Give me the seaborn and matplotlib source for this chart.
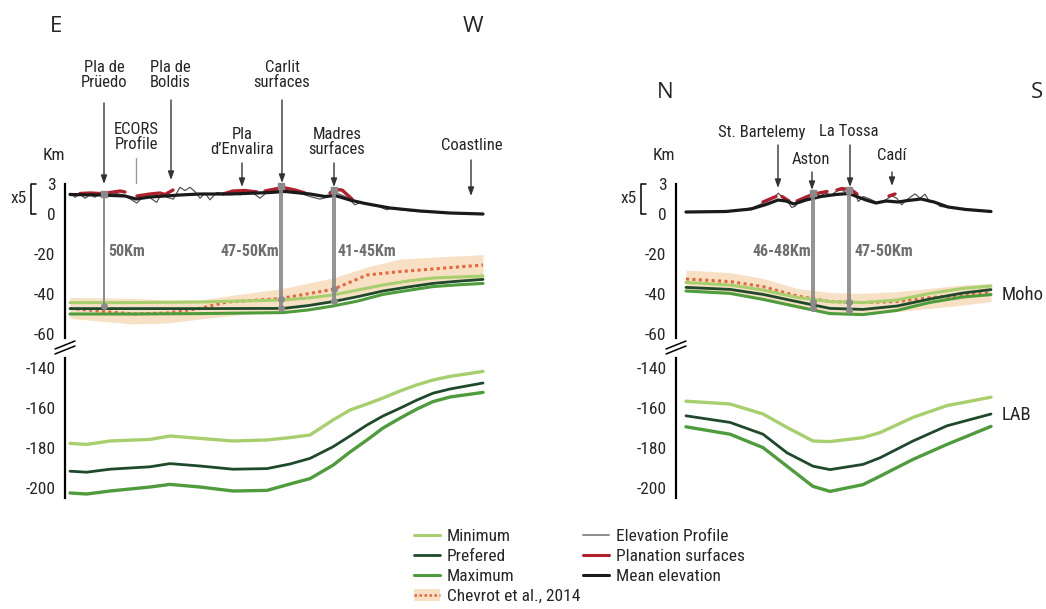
import numpy as np
import pandas as pd
import matplotlib
matplotlib.use("Agg")
import matplotlib.pyplot as plt
import seaborn as sns
from matplotlib import font_manager
from matplotlib.lines import Line2D
from matplotlib.patches import Patch

VE = 5  # vertical exaggeration of topography

# ---------------- E-W profile ----------------
ew_topo_x = [0, 5, 10, 15, 20, 25, 30, 36.7, 45, 53.3, 61.7, 66.7, 71.7, 78.3, 86.7, 91.7, 96.7,
             103.3, 110, 115, 120, 125, 130, 135, 140, 146.7, 153.3, 163.3, 170, 176.7, 183.3,
             190, 196.7, 206.7, 213.3, 220, 230, 240, 250, 260, 266.7, 276.7, 285, 290, 296.7,
             306.7, 316.7, 321.7, 330, 346.7, 363.3, 396.7, 413.3]
ew_topo = [2.08, 1.68, 1.98, 1.58, 1.91, 1.68, 2.08, 1.82, 2.08, 1.91, 1.42, 1.09, 1.58, 1.75,
           1.16, 2.08, 1.68, 1.49, 2.67, 2.34, 2.67, 2.24, 1.58, 2.08, 1.42, 2.15, 2.08, 2.24,
           1.91, 2.21, 2.08, 1.58, 2.15, 2.34, 2.54, 2.24, 2.08, 1.75, 1.49, 1.75, 2.08, 1.68,
           0.92, 1.16, 1.09, 0.83, 0.43, 0.59, 0.43, 0.26, 0.17, 0.03, 0.0]
ew_mean_x = [0, 30, 55, 66, 80, 110, 130, 160, 200, 215, 240, 255, 265, 280, 295, 320, 350, 380, 413]
ew_mean = [1.95, 1.9, 1.8, 1.5, 1.7, 1.9, 2.0, 2.0, 2.15, 2.25, 2.0, 1.75, 1.85, 1.4, 1.05, 0.6,
           0.3, 0.1, 0.0]
ew_plan_seg = [1, 1, 1, 1, 1, 1, 2, 2, 2, 2, 2, 3, 3, 3, 3, 4, 4, 4, 4, 4, 5, 5, 5, 5]
ew_plan_x = [10, 20, 30, 40, 50, 55, 67, 80, 90, 95, 103, 153, 163, 175, 187, 195, 205, 213,
             225, 235, 260, 265, 272, 282]
ew_plan = [2.05, 2.1, 2.05, 2.15, 2.3, 2.2, 1.8, 2.0, 2.1, 1.95, 2.4, 2.0, 2.3, 2.35, 2.2, 2.3,
           2.5, 2.65, 2.4, 2.1, 2.1, 2.45, 2.4, 1.5]

ew_moho_x = [0, 63, 130, 213, 238, 263, 288, 313, 338, 363, 388, 413]
ew_moho_min = [-44.3, -44.3, -44.0, -43.0, -42.0, -40.5, -38.0, -35.5, -33.5, -32.0, -31.5, -31.0]
ew_moho_pref = [-47.3, -47.3, -47.3, -47.2, -45.8, -43.8, -41.3, -38.5, -36.5, -34.7, -33.6, -32.7]
ew_moho_max = [-50.0, -50.0, -49.8, -49.3, -48.0, -46.0, -43.5, -40.2, -38.2, -36.3, -35.4, -34.7]

ew_chev_x = [0, 63, 97, 130, 157, 210, 263, 297, 330, 413]
ew_chev = [-47.2, -50.0, -49.5, -47.2, -44.0, -42.3, -37.7, -30.5, -28.8, -25.5]
ew_chev_up = [-41.7, -42.2, -43.0, -43.0, -41.0, -37.5, -32.0, -26.5, -22.5, -20.3]
ew_chev_lo = [-52.2, -55.0, -54.5, -52.5, -51.0, -48.5, -44.3, -39.5, -36.0, -33.0]

ew_lab_x = [0, 16.7, 40, 80, 100, 130, 163, 197, 220, 240, 263, 280, 297, 313, 330, 347, 363, 380, 413]
ew_lab_min = [-177.7, -178.2, -176.5, -175.7, -174.0, -175.2, -176.5, -176.0, -174.8, -173.5,
              -166.0, -161.0, -158.0, -155.0, -151.5, -148.4, -146.0, -144.2, -141.7]
ew_lab_pref = [-191.6, -192.1, -190.6, -189.4, -187.8, -189.0, -190.6, -190.3, -188.0, -185.2,
               -179.4, -174.0, -168.5, -164.0, -160.1, -156.0, -152.6, -150.5, -147.5]
ew_lab_max = [-202.5, -203.0, -201.5, -199.5, -198.2, -199.5, -201.5, -201.2, -198.0, -195.3,
              -188.6, -182.0, -176.0, -170.0, -165.1, -160.5, -156.8, -154.5, -152.2]

ew_marker_x = [34, 211, 264]
ew_marker_top = [2.0, 2.8, 2.4]
ew_marker_depths = [[-46.0], [-42.5, -47.0], [-37.5, -43.5]]
ew_marker_labels = ["50Km", "47-50Km", "41-45Km"]
ew_marker_label_x = [57, 180, 297]

ew_names = ["Pla de\nPrüedo", "ECORS\nProfile", "Pla de\nBoldis", "Pla\nd\u2019Envalira",
            "Carlit\nsurfaces", "Madres\nsurfaces", "Coastline"]
ew_name_x = [34, 66, 100, 172, 212, 267, 402]
ew_name_y = [69.5, 38.5, 69.5, 36, 69.5, 36, 34.5]
ew_arrow_x = [34, 66, 101, 172, 212, 264, 401]
ew_arrow_top = [55.5, 28, 57, 25.5, 57, 25.5, 27]
ew_arrow_tip = [15, 15.5, 17, 13.5, 15.5, 13.5, 9]

# ---------------- N-S profile ----------------
ns_topo_x = [0, 27.3, 54, 67.3, 80.7, 87.3, 92.3, 97.3, 102.3, 105.7, 109, 112.3, 117.3, 124, 129,
             134, 139, 145.7, 150.7, 155.7, 160.7, 165.7, 169, 172.3, 177.3, 184, 190.7, 197.3,
             205.7, 210.7, 215.7, 220.7, 229, 234, 239, 244, 249, 254, 267.3, 280.7, 294, 305]
ns_topo = [0.2, 0.2, 0.36, 0.66, 1.25, 1.58, 2.08, 1.58, 1.16, 0.66, 0.76, 1.16, 1.49, 1.91, 2.08,
           1.75, 2.08, 1.91, 2.31, 2.41, 2.08, 2.34, 2.08, 1.25, 1.75, 1.49, 1.16, 1.25, 1.82,
           1.58, 0.92, 1.42, 2.01, 1.58, 1.98, 1.16, 1.25, 0.76, 0.59, 0.49, 0.36, 0.26]
ns_mean_x = [0, 40, 65, 80, 92, 100, 108, 120, 135, 150, 163, 172, 180, 190, 200, 212, 222, 235,
             248, 262, 280, 305]
ns_mean = [0.2, 0.25, 0.5, 0.95, 1.4, 1.3, 1.0, 1.4, 1.75, 1.95, 2.05, 1.7, 1.4, 1.1, 1.3, 1.2,
           1.35, 1.5, 1.2, 0.7, 0.45, 0.25]
ns_plan_seg = [1, 1, 1, 2, 2, 3, 3, 3, 3, 3, 4, 4, 4, 4, 4, 5, 5]
ns_plan_x = [77, 84, 90, 96, 103, 111, 118, 125, 133, 141, 151, 156, 162, 167, 171, 203, 209]
ns_plan = [1.2, 1.5, 1.75, 1.75, 1.3, 1.3, 1.6, 1.9, 2.1, 2.25, 2.4, 2.55, 2.45, 2.3, 2.0, 1.8, 2.0]

ns_moho_x = [0, 44, 77, 111, 144, 177, 211, 244, 277, 305]
ns_moho_min = [-34.2, -35.5, -38.0, -41.7, -43.8, -44.3, -43.0, -39.7, -37.2, -36.0]
ns_moho_pref = [-36.7, -37.7, -40.2, -43.8, -47.2, -47.7, -46.0, -42.5, -39.5, -37.8]
ns_moho_max = [-38.5, -39.7, -42.7, -46.3, -49.8, -50.3, -48.2, -44.2, -41.5, -40.3]
ns_chev = [-32.5, -33.8, -36.3, -41.0, -43.8, -44.3, -43.8, -41.8, -40.5, -39.3]
ns_chev_up = [-28.0, -29.3, -32.2, -37.2, -39.3, -39.7, -38.8, -37.2, -35.5, -34.7]
ns_chev_lo = [-38.0, -39.3, -43.0, -47.2, -49.7, -49.7, -48.8, -47.2, -45.5, -43.8]

ns_lab_x = [0, 44, 77, 101, 127, 144, 177, 194, 227, 261, 305]
ns_lab_min = [-156.6, -158.0, -163.0, -169.7, -176.5, -176.8, -174.8, -172.3, -164.7, -158.8, -154.6]
ns_lab_pref = [-163.9, -167.2, -173.1, -182.4, -189.1, -190.8, -188.2, -184.9, -176.5, -168.9, -163.0]
ns_lab_max = [-169.4, -173.1, -179.8, -189.1, -199.2, -201.7, -198.3, -194.1, -185.7, -178.2, -169.2]

ns_marker_x = [127, 163]
ns_marker_top = [2.1, 2.4]
ns_marker_depths = [[-44.0, -47.0], [-44.0, -48.0]]
ns_marker_labels = ["46-48Km", "47-50Km"]
ns_marker_label_x = [96, 198]

ns_names = ["St. Bartelemy", "Aston", "La Tossa", "Cadí"]
ns_name_x = [76, 125, 163, 206]
ns_name_y = [41, 27, 41, 29.5]
ns_arrow_x = [92, 126, 164, 206]
ns_arrow_top = [34.5, 21, 34.5, 21]
ns_arrow_tip = [13, 12, 13.5, 14]

# colours
C_MIN = "#a8cf6e"
C_PREF = "#1e4a2b"
C_MAX = "#4e9c3c"
C_CHEV = "#e8643c"
C_BAND = "#f8e0c4"
C_PROF = "#555555"
C_PLAN = "#b0202c"
C_MEAN = "#1a1a1a"
C_MARK = "#8a8a8a"

sns.set_style("white")

# pick a narrow sans font if one is installed
_fonts = font_manager.fontManager.ttflist
_names = {f.name for f in _fonts}
narrow_family, narrow_stretch = None, "normal"
for cand in ["Liberation Sans Narrow", "Roboto Condensed", "Open Sans Condensed",
             "Noto Sans Condensed", "DejaVu Sans Condensed"]:
    if cand in _names:
        narrow_family = cand
        break
if narrow_family is None:
    for f in _fonts:
        if f.stretch in ("condensed", "semi-condensed") and f.name in ("Noto Sans", "DejaVu Sans",
                                                                       "Roboto", "Open Sans"):
            narrow_family, narrow_stretch = f.name, f.stretch
            break
if narrow_family is None:
    narrow_family = "Liberation Sans"
plt.rcParams["font.family"] = [narrow_family, "DejaVu Sans"]
plt.rcParams["font.stretch"] = narrow_stretch

fig = plt.figure(figsize=(10.46, 6.09), dpi=100)
W, H = 1046.0, 609.0
FS = 12.5


def px_axes(x0, y0, x1, y1):
    return fig.add_axes([x0 / W, 1 - y1 / H, (x1 - x0) / W, (y1 - y0) / H])


def style_axis(ax, major, labels, lo, hi):
    for s in ["top", "right", "bottom"]:
        ax.spines[s].set_visible(False)
    ax.spines["left"].set_linewidth(1.6)
    ax.spines["left"].set_color("black")
    ax.spines["left"].set_bounds(lo, hi)
    ax.set_xticks([])
    ax.set_yticks(major)
    ax.set_yticklabels(labels, fontsize=FS)
    ax.set_yticks(np.arange(lo - lo % 5, hi + 0.1, 5), minor=True)
    ax.tick_params(axis="y", which="major", direction="out", length=6, width=1.3, pad=1)
    ax.tick_params(axis="y", which="minor", direction="out", length=3.5, width=1.1)
    ax.set_xlabel("")
    ax.set_ylabel("")
    ax.patch.set_alpha(0)


def draw_panel(ax_top, ax_bot, d):
    # topography
    sns.lineplot(x=d["topo_x"], y=np.array(d["topo"]) * VE, ax=ax_top, color=C_PROF, lw=0.9,
                 estimator=None, sort=False)
    plan = pd.DataFrame({"x": d["plan_x"], "y": np.array(d["plan"]) * VE, "seg": d["plan_seg"]})
    sns.lineplot(data=plan, x="x", y="y", units="seg", estimator=None, ax=ax_top, color=C_PLAN,
                 lw=2.4, sort=False)
    sns.lineplot(x=d["mean_x"], y=np.array(d["mean"]) * VE, ax=ax_top, color=C_MEAN, lw=2.3,
                 estimator=None)
    # Chevrot et al. 2014
    ax_top.fill_between(d["chev_x"], d["chev_lo"], d["chev_up"], color=C_BAND, lw=0, zorder=0)
    sns.lineplot(x=d["chev_x"], y=d["chev"], ax=ax_top, color=C_CHEV, lw=2.2, linestyle=(0, (1, 1.1)),
                 estimator=None)
    # Moho
    sns.lineplot(x=d["moho_x"], y=d["moho_min"], ax=ax_top, color=C_MIN, lw=2.2, estimator=None)
    sns.lineplot(x=d["moho_x"], y=d["moho_pref"], ax=ax_top, color=C_PREF, lw=2.0, estimator=None)
    sns.lineplot(x=d["moho_x"], y=d["moho_max"], ax=ax_top, color=C_MAX, lw=2.2, estimator=None)
    # LAB
    sns.lineplot(x=d["lab_x"], y=d["lab_min"], ax=ax_bot, color=C_MIN, lw=2.4, estimator=None)
    sns.lineplot(x=d["lab_x"], y=d["lab_pref"], ax=ax_bot, color=C_PREF, lw=2.0, estimator=None)
    sns.lineplot(x=d["lab_x"], y=d["lab_max"], ax=ax_bot, color=C_MAX, lw=2.4, estimator=None)

    # crustal thickness markers
    for mx, top, depths, lab, lx in zip(d["mk_x"], d["mk_top"], d["mk_depths"], d["mk_labels"],
                                        d["mk_lx"]):
        if len(depths) > 1:
            for off in (-1.3, 1.3):
                ax_top.plot([mx + off, mx + off], [top * VE, min(depths)], color=C_MARK, lw=1.3,
                            zorder=5)
        else:
            ax_top.plot([mx, mx], [top * VE, min(depths)], color=C_MARK, lw=1.4, zorder=5)
        ax_top.scatter([mx], [top * VE], s=22, marker="s", color=C_MARK, zorder=6)
        ax_top.scatter([mx] * len(depths), depths, s=16, color=C_MARK, zorder=6)
        ax_top.text(lx, -18.5, lab, ha="center", va="center", fontsize=11.5, fontweight="bold",
                    color="#6e6e6e")

    # place names and arrows
    for name, nx, ny in zip(d["names"], d["name_x"], d["name_y"]):
        ax_top.text(nx, ny, name, ha="center", va="center", fontsize=12, linespacing=1.05,
                    clip_on=False)
    for i, (axx, a0, a1) in enumerate(zip(d["arr_x"], d["arr_top"], d["arr_tip"])):
        if d.get("plain_arrow") == i:
            ax_top.plot([axx, axx], [a0, a1], color="#9a9a9a", lw=1.0, clip_on=False)
        else:
            ax_top.annotate("", xy=(axx, a1), xytext=(axx, a0), annotation_clip=False,
                            arrowprops=dict(arrowstyle="-|>,head_length=0.5,head_width=0.18",
                                            color="#333333", lw=1.0, shrinkA=0, shrinkB=0))

    style_axis(ax_top, [15, 0, -20, -40, -60], ["3", "0", "-20", "-40", "-60"], -62, 15)
    style_axis(ax_bot, [-140, -160, -180, -200], ["-140", "-160", "-180", "-200"], -205, -135)
    ax_top.set_ylim(-63, 16)
    ax_bot.set_ylim(-205, -135)


ew = dict(topo_x=ew_topo_x, topo=ew_topo, mean_x=ew_mean_x, mean=ew_mean, plan_x=ew_plan_x,
          plan=ew_plan, plan_seg=ew_plan_seg, chev_x=ew_chev_x, chev=ew_chev, chev_up=ew_chev_up,
          chev_lo=ew_chev_lo, moho_x=ew_moho_x, moho_min=ew_moho_min, moho_pref=ew_moho_pref,
          moho_max=ew_moho_max, lab_x=ew_lab_x, lab_min=ew_lab_min, lab_pref=ew_lab_pref,
          lab_max=ew_lab_max, mk_x=ew_marker_x, mk_top=ew_marker_top, mk_depths=ew_marker_depths,
          mk_labels=ew_marker_labels, mk_lx=ew_marker_label_x, names=ew_names, name_x=ew_name_x,
          name_y=ew_name_y, arr_x=ew_arrow_x, arr_top=ew_arrow_top, arr_tip=ew_arrow_tip,
          plain_arrow=1)
ns = dict(topo_x=ns_topo_x, topo=ns_topo, mean_x=ns_mean_x, mean=ns_mean, plan_x=ns_plan_x,
          plan=ns_plan, plan_seg=ns_plan_seg, chev_x=ns_moho_x, chev=ns_chev, chev_up=ns_chev_up,
          chev_lo=ns_chev_lo, moho_x=ns_moho_x, moho_min=ns_moho_min, moho_pref=ns_moho_pref,
          moho_max=ns_moho_max, lab_x=ns_lab_x, lab_min=ns_lab_min, lab_pref=ns_lab_pref,
          lab_max=ns_lab_max, mk_x=ns_marker_x, mk_top=ns_marker_top, mk_depths=ns_marker_depths,
          mk_labels=ns_marker_labels, mk_lx=ns_marker_label_x, names=ns_names, name_x=ns_name_x,
          name_y=ns_name_y, arr_x=ns_arrow_x, arr_top=ns_arrow_top, arr_tip=ns_arrow_tip)

# left panel (E-W)
axL_top = px_axes(65, 182, 490, 340)
axL_bot = px_axes(65, 358, 490, 498)
draw_panel(axL_top, axL_bot, ew)
axL_top.set_xlim(-5, 420)
axL_bot.set_xlim(-5, 420)

# right panel (N-S)
axR_top = px_axes(676, 182, 995, 340)
axR_bot = px_axes(676, 358, 995, 498)
draw_panel(axR_top, axR_bot, ns)
axR_top.set_xlim(-10, 309)
axR_bot.set_xlim(-10, 309)

# direction letters, Km, x5 brackets, break marks
dir_font = ["Open Sans", "DejaVu Sans"]
for txt, xp, yp in [("E", 56, 26), ("W", 473, 26), ("N", 665, 92), ("S", 1037, 92)]:
    fig.text(xp / W, 1 - yp / H, txt, ha="center", va="center", fontsize=16, family=dir_font,
             stretch="normal")
for xs in (54, 664):
    fig.text(xs / W, 1 - 156 / H, "Km", ha="center", va="center", fontsize=FS)
for xb in (31, 641):
    fig.text((xb - 12) / W, 1 - 199 / H, "x5", ha="center", va="center", fontsize=FS)
    fig.add_artist(Line2D([(xb + 5) / W, xb / W, xb / W, (xb + 5) / W],
                          [1 - 184 / H, 1 - 184 / H, 1 - 214 / H, 1 - 214 / H], color="black", lw=1.1))
for xs in (65, 676):
    for dy in (0, 5):
        fig.add_artist(Line2D([(xs - 10) / W, (xs + 10) / W],
                              [1 - (354 - dy) / H, 1 - (346 - dy) / H], color="black", lw=1.1))

axR_top.text(316, -40.5, "Moho", ha="left", va="center", fontsize=13.5, clip_on=False)
axR_bot.text(316, -163.5, "LAB", ha="left", va="center", fontsize=13.5, clip_on=False)

# legend (two blocks)
handles1 = [
    Line2D([], [], color=C_MIN, lw=2.2),
    Line2D([], [], color=C_PREF, lw=2.0),
    Line2D([], [], color=C_MAX, lw=2.2),
    (Patch(facecolor=C_BAND, edgecolor="none"), Line2D([], [], color=C_CHEV, lw=1.8, linestyle=(0, (1, 1)))),
]
labels1 = ["Minimum", "Prefered", "Maximum", "Chevrot et al., 2014"]
handles2 = [
    Line2D([], [], color="#8c8c8c", lw=1.4),
    Line2D([], [], color=C_PLAN, lw=2.2),
    Line2D([], [], color=C_MEAN, lw=2.2),
]
labels2 = ["Elevation Profile", "Planation surfaces", "Mean elevation"]
leg_kw = dict(frameon=False, fontsize=FS, handlelength=1.5, handletextpad=0.4, labelspacing=0.28,
              borderpad=0, borderaxespad=0)
fig.legend(handles1, labels1, loc="upper left", bbox_to_anchor=(414 / W, 1 - 529 / H), **leg_kw)
fig.legend(handles2, labels2, loc="upper left", bbox_to_anchor=(583 / W, 1 - 529 / H), **leg_kw)

fig.savefig("out.png", dpi=100)
